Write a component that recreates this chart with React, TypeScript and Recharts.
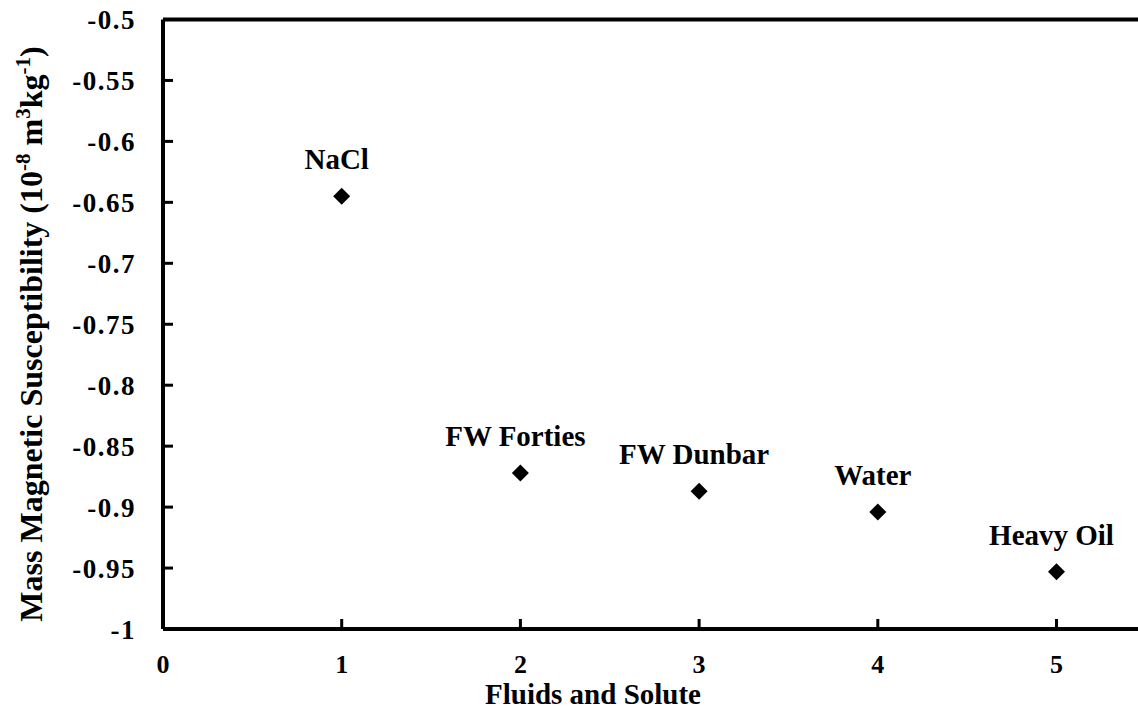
import { ScatterChart, Scatter, XAxis, YAxis, ReferenceLine } from "recharts";

const fluids = ["NaCl", "FW Forties", "FW Dunbar", "Water", "Heavy Oil"];
const sampleIndex = [1, 2, 3, 4, 5];
const susceptibility = [-0.645, -0.872, -0.887, -0.904, -0.953];
const xTicks = [0, 1, 2, 3, 4, 5];
const yTicks = [-1, -0.95, -0.9, -0.85, -0.8, -0.75, -0.7, -0.65, -0.6, -0.55, -0.5];

const points = fluids.map((name, i) => ({ name, x: sampleIndex[i], y: susceptibility[i] }));

const textStyle = { fontFamily: "Liberation Serif, Times New Roman, serif", fontWeight: 700 };

// diamond marker with its fluid name above it
const DiamondPoint = (props: any) => {
  const { cx, cy, payload } = props;
  const r = 8.5;
  return (
    <g>
      <text x={cx - 5} y={cy - 27} textAnchor="middle" style={textStyle} fontSize={29} fill="#000">
        {payload.name}
      </text>
      <path d={`M${cx},${cy - r}L${cx + r},${cy}L${cx},${cy + r}L${cx - r},${cy}Z`} fill="#000" />
    </g>
  );
};

// y ticks point into the plot
const YTick = ({ x, y, payload }: any) => (
  <g>
    <line x1={x + 28} x2={x + 38} y1={y} y2={y} stroke="#000" strokeWidth={3} />
    <text
      x={x + 1}
      y={y}
      dy="0.36em"
      textAnchor="end"
      style={{ ...textStyle, letterSpacing: 1.5 }}
      fontSize={27}
      fill="#000"
    >
      {payload.value}
    </text>
  </g>
);

const XTick = ({ x, y, payload }: any) => (
  <g>
    <line x1={x} x2={x} y1={y} y2={y - 10} stroke="#000" strokeWidth={3} />
    <text x={x} y={y + 44} textAnchor="middle" style={textStyle} fontSize={26} fill="#000">
      {payload.value}
    </text>
  </g>
);

const App = () => {
  return (
    <div style={{ position: "fixed", left: 0, top: 0, background: "#fff" }}>
      <ScatterChart width={1138} height={713} margin={{ top: 19.5, right: 0, bottom: 34, left: 83 }}>
        <XAxis
          type="number"
          dataKey="x"
          domain={[0, 5.456]}
          allowDataOverflow
          ticks={xTicks}
          interval={0}
          height={50}
          tickLine={false}
          tickSize={0}
          tickMargin={0}
          axisLine={{ stroke: "#000", strokeWidth: 4 }}
          tick={<XTick />}
          label={() => (
            <text x={593} y={704} textAnchor="middle" style={textStyle} fontSize={29} fill="#000">
              Fluids and Solute
            </text>
          )}
        />
        <YAxis
          type="number"
          dataKey="y"
          domain={[-1, -0.5]}
          allowDataOverflow
          ticks={yTicks}
          interval={0}
          width={80}
          tickLine={false}
          tickSize={0}
          tickMargin={28}
          axisLine={{ stroke: "#000", strokeWidth: 4 }}
          tick={<YTick />}
          label={() => (
            <text
              x={42}
              y={334}
              transform="rotate(-90, 42, 334)"
              textAnchor="middle"
              style={textStyle}
              fontSize={32}
              fill="#000"
            >
              Mass Magnetic Susceptibility (10
              <tspan dy={-12} fontSize={21}>-8</tspan>
              <tspan dy={12}> m</tspan>
              <tspan dy={-12} fontSize={21}>3</tspan>
              <tspan dy={12}>kg</tspan>
              <tspan dy={-12} fontSize={21}>-1</tspan>
              <tspan dy={12}>)</tspan>
            </text>
          )}
        />
        <ReferenceLine y={-0.5} stroke="#000" strokeWidth={4} />
        <Scatter data={points} fill="#000" shape={<DiamondPoint />} isAnimationActive={false} />
      </ScatterChart>
    </div>
  );
};

export default App;
